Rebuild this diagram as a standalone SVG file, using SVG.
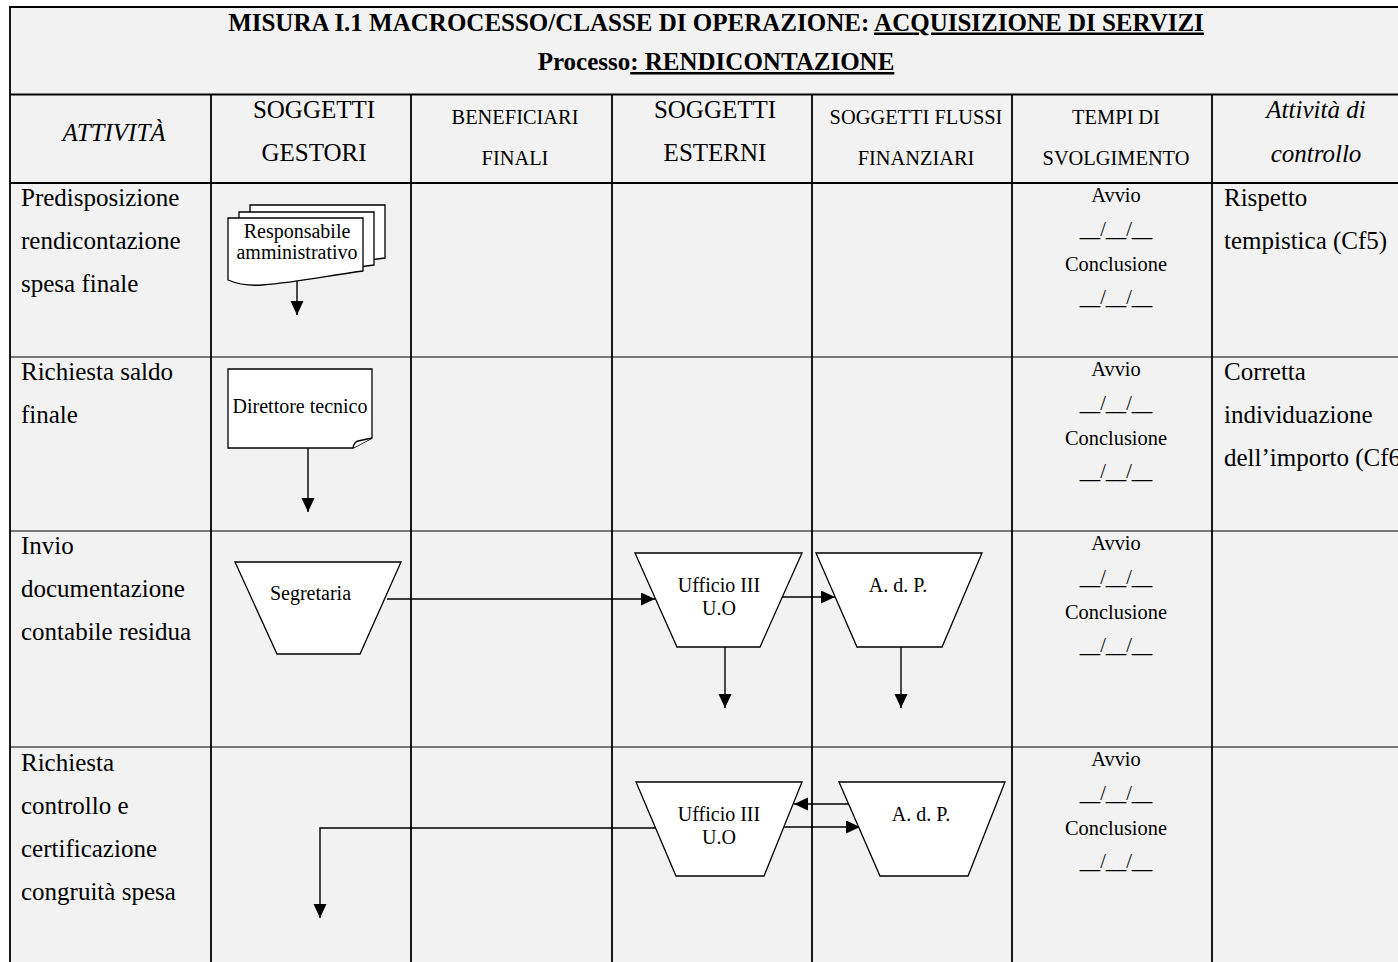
<svg xmlns="http://www.w3.org/2000/svg" width="1398" height="962" viewBox="0 0 1398 962">
  <style>
    .t { font-family: "Liberation Serif", "Times New Roman", serif; fill: #000; }
    .big { font-size: 25px; }
    .small { font-size: 20.4px; }
    .lbl { font-size: 20px; }
    .mid { text-anchor: middle; }
    .it { font-style: italic; }
    .b { font-weight: bold; }
    .u { text-decoration: underline; }
    .thick { stroke: #000; stroke-width: 1.8; }
    .thin { stroke: #000; stroke-width: 1.1; }
    .shape { fill: #fff; stroke: #000; stroke-width: 1.3; stroke-linejoin: miter; }
    .conn { fill: none; stroke: #000; stroke-width: 1.4; marker-end: url(#ah); }
  </style>
  <defs>
    <marker id="ah" markerUnits="userSpaceOnUse" markerWidth="15" markerHeight="14" refX="14" refY="6.5" orient="auto">
      <path d="M0,0 L14,6.5 L0,13 Z" fill="#000"/>
    </marker>
    <!-- single sheet of the multi-document symbol, wavy bottom edge -->
    <path id="docSheet" d="M0,0 H135 V53 C97,58 72,64 34,67 C20,68 7,65 0,62 Z"/>
  </defs>

  <!-- page and table background -->
  <rect x="0" y="0" width="1398" height="962" fill="#fff"/>
  <rect x="10" y="7" width="1388" height="955" fill="#f2f2f2"/>

  <!-- table grid -->
  <g id="grid">
    <line class="thick" x1="9" y1="7" x2="1398" y2="7"/>
    <line class="thick" x1="10" y1="94.5" x2="1398" y2="94.5"/>
    <line class="thick" x1="10" y1="183" x2="1398" y2="183"/>
    <line class="thin" x1="10" y1="357" x2="1398" y2="357"/>
    <line class="thin" x1="10" y1="531" x2="1398" y2="531"/>
    <line class="thin" x1="10" y1="747" x2="1398" y2="747"/>
    <line class="thick" x1="10" y1="6" x2="10" y2="962"/>
    <line class="thick" x1="211" y1="94" x2="211" y2="962"/>
    <line class="thick" x1="411" y1="94" x2="411" y2="962"/>
    <line class="thick" x1="612" y1="94" x2="612" y2="962"/>
    <line class="thick" x1="812" y1="94" x2="812" y2="962"/>
    <line class="thick" x1="1012" y1="94" x2="1012" y2="962"/>
    <line class="thick" x1="1212" y1="94" x2="1212" y2="962"/>
  </g>

  <!-- title rows -->
  <g id="title">
    <text class="t big b mid" x="716" y="30.5">MISURA I.1 MACROCESSO/CLASSE DI OPERAZIONE: <tspan class="u">ACQUISIZIONE DI SERVIZI</tspan></text>
    <text class="t big b mid" x="716" y="70">Processo<tspan class="u">: RENDICONTAZIONE</tspan></text>
  </g>

  <!-- column headers -->
  <g id="headers">
    <text class="t big it mid" x="114" y="141">ATTIVITÀ</text>
    <text class="t big mid" x="314" y="118">SOGGETTI</text>
    <text class="t big mid" x="314" y="161">GESTORI</text>
    <text class="t small mid" x="515" y="124">BENEFICIARI</text>
    <text class="t small mid" x="515" y="165">FINALI</text>
    <text class="t big mid" x="715" y="118">SOGGETTI</text>
    <text class="t big mid" x="715" y="161">ESTERNI</text>
    <text class="t small mid" x="916" y="124">SOGGETTI FLUSSI</text>
    <text class="t small mid" x="916" y="165">FINANZIARI</text>
    <text class="t small mid" x="1116" y="124">TEMPI DI</text>
    <text class="t small mid" x="1116" y="165">SVOLGIMENTO</text>
    <text class="t big it mid" x="1316" y="118">Attività di</text>
    <text class="t big it mid" x="1316" y="162">controllo</text>
  </g>

  <!-- activity column -->
  <g id="activities">
    <text class="t big" x="21" y="205.5">Predisposizione</text>
    <text class="t big" x="21" y="248.5">rendicontazione</text>
    <text class="t big" x="21" y="291.5">spesa finale</text>
    <text class="t big" x="21" y="380">Richiesta saldo</text>
    <text class="t big" x="21" y="423">finale</text>
    <text class="t big" x="21" y="553.5">Invio</text>
    <text class="t big" x="21" y="596.5">documentazione</text>
    <text class="t big" x="21" y="639.5">contabile residua</text>
    <text class="t big" x="21" y="771">Richiesta</text>
    <text class="t big" x="21" y="814">controllo e</text>
    <text class="t big" x="21" y="857">certificazione</text>
    <text class="t big" x="21" y="900">congruità spesa</text>
  </g>

  <!-- timing column -->
  <g id="timing">
    <text class="t small mid" x="1116" y="201.5">Avvio</text>
    <text class="t small mid" x="1116" y="236">__/__/__</text>
    <text class="t small mid" x="1116" y="271">Conclusione</text>
    <text class="t small mid" x="1116" y="304">__/__/__</text>

    <text class="t small mid" x="1116" y="375.5">Avvio</text>
    <text class="t small mid" x="1116" y="410">__/__/__</text>
    <text class="t small mid" x="1116" y="445">Conclusione</text>
    <text class="t small mid" x="1116" y="478">__/__/__</text>

    <text class="t small mid" x="1116" y="549.5">Avvio</text>
    <text class="t small mid" x="1116" y="584">__/__/__</text>
    <text class="t small mid" x="1116" y="619">Conclusione</text>
    <text class="t small mid" x="1116" y="652">__/__/__</text>

    <text class="t small mid" x="1116" y="765.5">Avvio</text>
    <text class="t small mid" x="1116" y="800">__/__/__</text>
    <text class="t small mid" x="1116" y="835">Conclusione</text>
    <text class="t small mid" x="1116" y="868">__/__/__</text>
  </g>

  <!-- control column (last line runs past the right edge of the page) -->
  <g id="controls">
    <text class="t big" x="1224" y="205.5">Rispetto</text>
    <text class="t big" x="1224" y="248.5">tempistica (Cf5)</text>
    <text class="t big" x="1224" y="380">Corretta</text>
    <text class="t big" x="1224" y="423">individuazione</text>
    <text class="t big" x="1224" y="466">dell’importo (Cf6)</text>
  </g>

  <!-- connectors -->
  <g id="connectors">
    <path class="conn" d="M297,266 V315"/>
    <path class="conn" d="M308,445 V512"/>
    <path class="conn" d="M387,599 H655"/>
    <path class="conn" d="M782,597 H835"/>
    <path class="conn" d="M725,647 V708"/>
    <path class="conn" d="M901,647 V708"/>
    <path class="conn" d="M857,804 H794"/>
    <path class="conn" d="M783,827 H860"/>
    <path class="conn" d="M658,828 H320 V918"/>
  </g>

  <!-- nodes -->
  <g id="node-responsabile">
    <use href="#docSheet" class="shape" x="250" y="205"/>
    <use href="#docSheet" class="shape" x="239" y="212"/>
    <use href="#docSheet" class="shape" x="228" y="218"/>
    <text class="t lbl mid" x="297" y="238">Responsabile</text>
    <text class="t lbl mid" x="297" y="259">amministrativo</text>
  </g>

  <g id="node-direttore">
    <path class="shape" d="M228,369 H372 V438 L353,448 H228 Z"/>
    <path class="shape" d="M353,448 Q354,442 358,441 L372,438" fill="none"/>
    <text class="t lbl mid" x="300" y="413">Direttore tecnico</text>
  </g>

  <g id="node-segretaria">
    <polygon class="shape" points="235,562 401,562 360,654 277,654"/>
    <text class="t lbl mid" x="310.5" y="600">Segretaria</text>
  </g>

  <g id="node-ufficio-1">
    <polygon class="shape" points="635,553 802,553 760,647 677,647"/>
    <text class="t lbl mid" x="719" y="592">Ufficio III</text>
    <text class="t lbl mid" x="719" y="615">U.O</text>
  </g>

  <g id="node-adp-1">
    <polygon class="shape" points="816,553 982,553 942,647 857,647"/>
    <text class="t lbl mid" x="898" y="592">A. d. P.</text>
  </g>

  <g id="node-ufficio-2">
    <polygon class="shape" points="636,782 802,782 764,876 676,876"/>
    <text class="t lbl mid" x="719" y="821">Ufficio III</text>
    <text class="t lbl mid" x="719" y="844">U.O</text>
  </g>

  <g id="node-adp-2">
    <polygon class="shape" points="839,782 1005,782 968,876 880,876"/>
    <text class="t lbl mid" x="921" y="821">A. d. P.</text>
  </g>
</svg>
